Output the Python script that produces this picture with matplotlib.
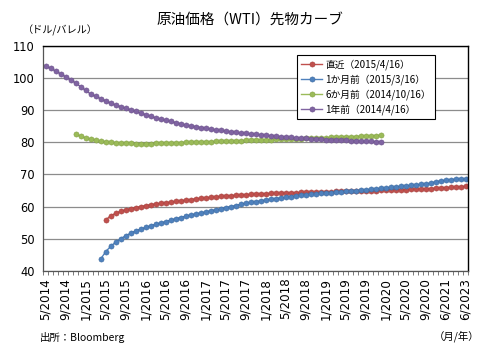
import matplotlib
matplotlib.use('Agg')
import matplotlib.pyplot as plt

plt.rcParams['font.family'] = ['Noto Sans CJK JP', 'DejaVu Sans']

# カテゴリ（月/年）
dates = ['5/2014', '6/2014', '7/2014', '8/2014', '9/2014', '10/2014', '11/2014', '12/2014',
         '1/2015', '2/2015', '3/2015', '4/2015', '5/2015', '6/2015', '7/2015', '8/2015',
         '9/2015', '10/2015', '11/2015', '12/2015', '1/2016', '2/2016', '3/2016', '4/2016',
         '5/2016', '6/2016', '7/2016', '8/2016', '9/2016', '10/2016', '11/2016', '12/2016',
         '1/2017', '2/2017', '3/2017', '4/2017', '5/2017', '6/2017', '7/2017', '8/2017',
         '9/2017', '10/2017', '11/2017', '12/2017', '1/2018', '2/2018', '3/2018', '4/2018',
         '5/2018', '6/2018', '7/2018', '8/2018', '9/2018', '10/2018', '11/2018', '12/2018',
         '1/2019', '2/2019', '3/2019', '4/2019', '5/2019', '6/2019', '7/2019', '8/2019',
         '9/2019', '10/2019', '11/2019', '12/2019', '1/2020', '2/2020', '3/2020', '4/2020',
         '5/2020', '6/2020', '7/2020', '8/2020', '9/2020', '11/2020', '12/2020', '3/2021',
         '6/2021', '12/2021', '6/2022', '12/2022', '6/2023']

# 直近 (2015/4/16): 5/2015 から
latest_start = 12
latest = [55.8, 57.1, 57.9, 58.5, 59.0, 59.4, 59.7, 60.0, 60.3, 60.6, 60.8, 61.0,
          61.2, 61.4, 61.6, 61.8, 62.0, 62.2, 62.4, 62.6, 62.7, 62.9, 63.0, 63.2,
          63.3, 63.4, 63.5, 63.6, 63.7, 63.8, 63.9, 64.0, 64.0, 64.1, 64.1, 64.2,
          64.2, 64.3, 64.3, 64.4, 64.4, 64.5, 64.5, 64.5, 64.6, 64.6, 64.7, 64.7,
          64.8, 64.8, 64.9, 64.9, 65.0, 65.0, 65.0, 65.1, 65.1, 65.2, 65.2, 65.3,
          65.3, 65.4, 65.4, 65.5, 65.5, 65.6, 65.7, 65.8, 65.9, 66.0, 66.1, 66.2, 66.3]

# 1か月前 (2015/3/16): 4/2015 から
month1_start = 11
month1 = [43.6, 45.9, 47.6, 48.9, 50.0, 50.9, 51.7, 52.4, 53.0, 53.5, 54.0, 54.5,
          54.9, 55.3, 55.8, 56.2, 56.6, 57.0, 57.4, 57.7, 58.0, 58.3, 58.7, 59.0,
          59.3, 59.7, 60.0, 60.3, 60.7, 61.0, 61.3, 61.5, 61.8, 62.0, 62.3, 62.5,
          62.7, 62.9, 63.1, 63.3, 63.5, 63.7, 63.8, 64.0, 64.1, 64.2, 64.3, 64.5,
          64.6, 64.7, 64.8, 64.9, 65.1, 65.2, 65.4, 65.5, 65.7, 65.8, 66.0, 66.1,
          66.3, 66.4, 66.6, 66.7, 66.9, 67.0, 67.3, 67.7, 68.0, 68.2, 68.4, 68.5,
          68.6, 68.6]

# 6か月前 (2014/10/16): 11/2014 から
month6_start = 6
month6 = [82.5, 81.9, 81.4, 81.0, 80.7, 80.4, 80.2, 80.0, 79.9, 79.8, 79.7, 79.7,
          79.6, 79.6, 79.6, 79.6, 79.7, 79.7, 79.8, 79.8, 79.9, 79.9, 80.0, 80.0,
          80.1, 80.1, 80.2, 80.2, 80.3, 80.3, 80.4, 80.4, 80.5, 80.5, 80.6, 80.6,
          80.7, 80.7, 80.8, 80.8, 80.9, 80.9, 81.0, 81.0, 81.1, 81.1, 81.2, 81.3,
          81.3, 81.4, 81.4, 81.5, 81.5, 81.6, 81.7, 81.7, 81.8, 81.9, 81.9, 82.0,
          82.1, 82.2]

# 1年前 (2014/4/16): 5/2014 から
year1_start = 0
year1 = [103.8, 103.0, 102.2, 101.3, 100.4, 99.4, 98.5, 97.3, 96.2, 95.0, 94.3, 93.6,
         92.9, 92.2, 91.6, 91.1, 90.6, 90.1, 89.6, 89.1, 88.6, 88.1, 87.6, 87.2,
         86.9, 86.5, 86.1, 85.8, 85.4, 85.1, 84.9, 84.6, 84.4, 84.1, 83.9, 83.7,
         83.5, 83.3, 83.1, 82.9, 82.8, 82.6, 82.5, 82.3, 82.2, 82.0, 81.9, 81.8,
         81.7, 81.6, 81.4, 81.3, 81.2, 81.1, 81.0, 80.9, 80.8, 80.8, 80.7, 80.6,
         80.6, 80.5, 80.4, 80.4, 80.3, 80.3, 80.2, 80.2]

series = [
    ('直近（2015/4/16）', latest_start, latest, '#C0504D', '#A5413E'),
    ('1か月前（2015/3/16）', month1_start, month1, '#4F81BD', '#3C6A9F'),
    ('6か月前（2014/10/16）', month6_start, month6, '#9BBB59', '#82A044'),
    ('1年前（2014/4/16）', year1_start, year1, '#8064A2', '#694F88'),
]

fig = plt.figure(figsize=(5, 3.5), dpi=100)
ax = fig.add_axes([0.086, 0.226, 0.85, 0.643])

for label, start, vals, col, edge in series:
    xs = list(range(start, start + len(vals)))
    ax.plot(xs, vals, color=col, linewidth=1.0, marker='o', markersize=3.7,
            markerfacecolor=col, markeredgecolor=edge, markeredgewidth=0.4, label=label)

n = len(dates)
ax.set_xlim(-0.5, n - 0.5)
ax.set_ylim(40, 110)
ax.set_yticks(range(40, 111, 10))
ax.yaxis.grid(True, color='#8C8C8C', linewidth=0.9)
ax.set_axisbelow(True)

ax.set_xticks(range(0, n, 4))
ax.set_xticklabels(dates[::4], rotation=90, fontsize=8.6, family=['DejaVu Sans'])
ax.set_xticks([i - 0.5 for i in range(n + 1)], minor=True)
ax.tick_params(axis='x', which='major', length=0, pad=5)
ax.tick_params(axis='x', which='minor', length=3, width=0.6, color='#666666')
ax.tick_params(axis='y', length=0, labelsize=8.3, pad=6)
for lab in ax.get_yticklabels():
    lab.set_family(['DejaVu Sans'])

for s in ['left', 'bottom']:
    ax.spines[s].set_color('#555555')
    ax.spines[s].set_linewidth(0.9)
for s in ['top', 'right']:
    ax.spines[s].set_color('black')
    ax.spines[s].set_linewidth(1.0)

leg = ax.legend(loc='upper left', bbox_to_anchor=(0.598, 0.96), fontsize=7,
                frameon=True, fancybox=False, handlelength=2.2, borderpad=0.4,
                labelspacing=0.45, handletextpad=0.3, borderaxespad=0)
leg.get_frame().set_edgecolor('black')
leg.get_frame().set_linewidth(0.8)
leg.get_frame().set_alpha(1)

fig.text(0.5, 0.945, '原油価格（WTI）先物カーブ', ha='center', va='center', fontsize=10.5)
fig.text(0.045, 0.913, '（ドル/バレル）', ha='left', va='center', fontsize=7.3)
fig.text(0.08, 0.035, '出所：Bloomberg', ha='left', va='center', fontsize=7.5)
fig.text(0.958, 0.04, '（月/年）', ha='right', va='center', fontsize=7.5)

fig.savefig('out.png', dpi=100, facecolor='white')
